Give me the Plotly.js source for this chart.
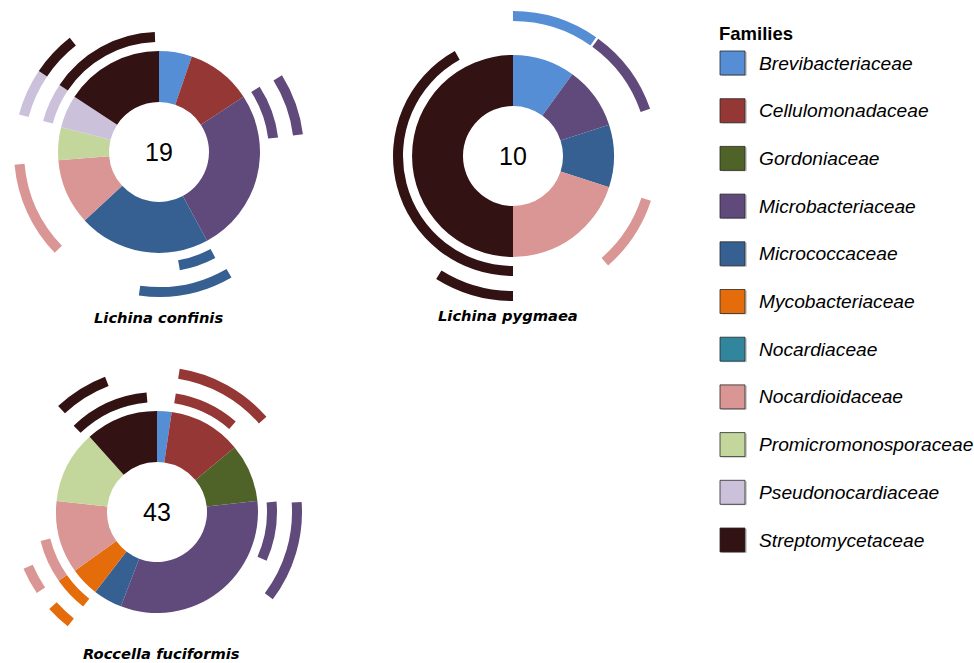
<!DOCTYPE html>
<html>
<head>
<meta charset="utf-8">
<script src="https://cdn.plot.ly/plotly-3.0.1.min.js"></script>
<style>
html,body{margin:0;padding:0;background:#fff;}
#chart{width:974px;height:663px;}
</style>
</head>
<body>
<div id="chart"></div>
<script>
// ---------- data ----------
const families = ['Brevibacteriaceae','Cellulomonadaceae','Gordoniaceae','Microbacteriaceae','Micrococcaceae','Mycobacteriaceae','Nocardiaceae','Nocardioidaceae','Promicromonosporaceae','Pseudonocardiaceae','Streptomycetaceae'];
const familyColors = ['#558ED5','#953735','#4F6228','#604A7B','#376092','#E46C0A','#31859C','#D99694','#C3D69B','#CCC1DA','#321212'];
const samples = ['Lichina confinis','Lichina pygmaea','Roccella fuciformis'];
const totals = [19, 10, 43];
const countsConfinis = [1,2,0,5,4,0,0,2,1,1,3];
const countsPygmaea  = [1,0,0,1,1,0,0,2,0,0,5];
const countsRoccella = [1,5,4,14,2,2,0,5,5,0,5];
// outer genus arcs: [family index, ring, start angle (deg), end angle (deg)]
const arcsConfinis = [[3,1,57,83],[3,2,58,83],[4,1,152,170],[4,2,150,188],[7,2,226,265],[9,1,285,304],[9,2,285,304],[10,1,304,358],[10,2,304,322]];
const arcsPygmaea  = [[0,2,0,35],[3,2,36,71],[7,2,108,139],[10,1,180,331],[10,2,180,212]];
const arcsRoccella = [[1,1,9,41],[1,2,9,49],[3,1,85,114],[3,2,86,127],[5,1,218,235],[5,2,218,228],[7,1,235,256],[7,2,236,247],[10,1,316,355],[10,2,317,339]];

// ---------- layout constants ----------
const W = 974, H = 663;
const centers = [[159,152],[513,156],[157,512]];
const titlePos = [[158,317],[508,315],[161,653]];
const polarR = 150;           // px radius of each polar domain (== radial range)
const holeR = 50, outerR = 101;
const ringBase = {1:110, 2:135};
const ringThick = 10;

const allCounts = [countsConfinis, countsPygmaea, countsRoccella];
const allArcs = [arcsConfinis, arcsPygmaea, arcsRoccella];

const traces = [];
const layout = {
  width: W, height: H,
  margin: {l:0, r:0, t:0, b:0},
  paper_bgcolor: '#fff',
  showlegend: false,
  annotations: [],
  shapes: []
};

allCounts.forEach((counts, k) => {
  const total = counts.reduce((a,b)=>a+b,0);
  const theta = [], width = [], colors = [], names = [];
  let acc = 0;
  counts.forEach((c,i) => {
    if (c > 0) {
      const span = c / total * 360;
      theta.push(acc + span/2);
      width.push(span);
      colors.push(familyColors[i]);
      names.push(families[i]);
      acc += span;
    }
  });
  const sub = k === 0 ? 'polar' : 'polar' + (k+1);
  traces.push({
    type: 'barpolar', subplot: sub,
    theta: theta, width: width,
    r: theta.map(()=>outerR - holeR), base: theta.map(()=>holeR),
    marker: {color: colors, line: {width: 0}},
    text: names, hoverinfo: 'text'
  });
  const arcs = allArcs[k];
  traces.push({
    type: 'barpolar', subplot: sub,
    theta: arcs.map(a => (a[2]+a[3])/2),
    width: arcs.map(a => a[3]-a[2]),
    r: arcs.map(()=>ringThick),
    base: arcs.map(a => ringBase[a[1]]),
    marker: {color: arcs.map(a => familyColors[a[0]]), line: {width: 0}},
    text: arcs.map(a => families[a[0]]), hoverinfo: 'text'
  });
  const [cx, cy] = centers[k];
  layout[sub] = {
    domain: {x: [(cx-polarR)/W, (cx+polarR)/W], y: [1-(cy+polarR)/H, 1-(cy-polarR)/H]},
    bgcolor: 'rgba(0,0,0,0)',
    radialaxis: {range: [0, polarR], visible: false, showgrid: false},
    angularaxis: {rotation: 90, direction: 'clockwise', visible: false, showgrid: false},
    barmode: 'overlay'
  };
  layout.annotations.push({
    xref:'paper', yref:'paper', x: cx/W, y: 1-cy/H, xanchor:'center', yanchor:'middle',
    text: String(totals[k]), showarrow:false,
    font:{family:'Liberation Sans, Arial, sans-serif', size:25, color:'#000'}
  });
  layout.annotations.push({
    xref:'paper', yref:'paper', x: titlePos[k][0]/W, y: 1-titlePos[k][1]/H, xanchor:'center', yanchor:'middle',
    text: '<b><i>' + samples[k] + '</i></b>', showarrow:false,
    font:{family:'DejaVu Sans, Verdana, sans-serif', size:14.7, color:'#000'}
  });
});

// ---------- legend ----------
layout.annotations.push({
  xref:'paper', yref:'paper', x: 717/W, y: 1-33/H, xanchor:'left', yanchor:'middle',
  text:'<b>Families</b>', showarrow:false,
  font:{family:'Liberation Sans, Arial, sans-serif', size:18.5, color:'#000'}
});
families.forEach((f,i) => {
  const yc = 63 + 47.7*i;
  layout.shapes.push({
    type:'rect', xref:'paper', yref:'paper',
    x0: 722/W, x1: 747/W, y0: 1-(yc+13)/H, y1: 1-(yc-11)/H,
    fillcolor:'rgba(0,0,0,0.18)', line:{width:0}
  });
  layout.shapes.push({
    type:'rect', xref:'paper', yref:'paper',
    x0: 720/W, x1: 745/W, y0: 1-(yc+12)/H, y1: 1-(yc-12)/H,
    fillcolor: familyColors[i], line:{color:'rgba(40,40,40,0.8)', width:1}
  });
  layout.annotations.push({
    xref:'paper', yref:'paper', x: 757/W, y: 1-yc/H, xanchor:'left', yanchor:'middle',
    text:'<i>' + f + '</i>', showarrow:false,
    font:{family:'Liberation Sans, Arial, sans-serif', size:19.2, color:'#000'}
  });
});

Plotly.newPlot('chart', traces, layout, {displayModeBar:false, staticPlot:true});
</script>
</body>
</html>
